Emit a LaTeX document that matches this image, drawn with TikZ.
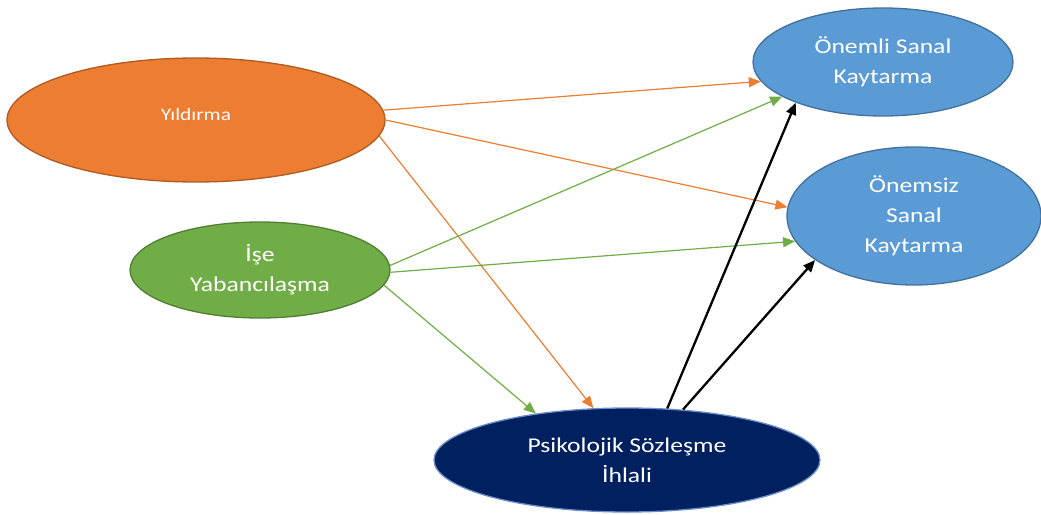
\documentclass[tikz,border=0pt]{standalone}
\usepackage{fontspec}
\usepackage{graphicx}
\setmainfont{Carlito}
\usetikzlibrary{shapes.geometric,arrows.meta}
\definecolor{org}{HTML}{ED7D31}
\definecolor{orgd}{HTML}{AE5A21}
\definecolor{grn}{HTML}{70AD47}
\definecolor{grnd}{HTML}{507E32}
\definecolor{blu}{HTML}{5B9BD5}
\definecolor{blud}{HTML}{41719C}
\definecolor{nvy}{HTML}{002060}
\definecolor{nvyd}{HTML}{6A8FC8}
\newcommand{\hs}[1]{\scalebox{1.22}[1]{#1}}
\begin{document}
\begin{tikzpicture}[x=1pt,y=-1pt,
  ell/.style={ellipse, draw, line width=1.3pt, inner sep=0pt, text=white, align=center,
    font=\fontsize{21}{30}\selectfont},
  oarr/.style={draw=org, line width=1.2pt, -{Triangle[length=12pt,width=10pt]}, org},
  garr/.style={draw=grn, line width=1.2pt, -{Triangle[length=12pt,width=10pt]}, grn},
  karr/.style={draw=black, line width=2.3pt, -{Triangle[length=12pt,width=10pt]}}]
\useasboundingbox (0,0) rectangle (1041,514);
\node[ell, fill=org, draw=orgd, minimum width=378pt, minimum height=124pt,
  font=\fontsize{17.5}{24}\selectfont] (y) at (196,120) {\raisebox{11pt}{\hs{Yıldırma}}};
\node[ell, fill=grn, draw=grnd, minimum width=260pt, minimum height=96pt] (i) at (260,270)
  {\hs{İşe}\\\hs{Yabancılaşma}};
\node[ell, fill=nvy, draw=nvyd, minimum width=386pt, minimum height=104pt] (p) at (627,460)
  {\hs{Psikolojik Sözleşme}\\\hs{İhlali}};
\node[ell, fill=blu, draw=blud, minimum width=260pt, minimum height=108pt] (a) at (883,62)
  {\hs{Önemli Sanal}\\\hs{Kaytarma}};
\node[ell, fill=blu, draw=blud, minimum width=254pt, minimum height=138pt] (b) at (914,216)
  {\hs{Önemsiz}\\\hs{Sanal}\\\hs{Kaytarma}};
\draw[oarr] (y.3) -- (a.189);
\draw[oarr] (y.0) -- (b.176);
\draw[oarr] (y.-5) -- (p.123);
\draw[garr] (i.2) -- (a.199);
\draw[garr] (i.-1) -- (b.192);
\draw[garr] (i.-7) -- (p.153);
\draw[karr] (p.52) -- (a.205);
\draw[karr] (p.42) -- (b.204);
\end{tikzpicture}
\end{document}
